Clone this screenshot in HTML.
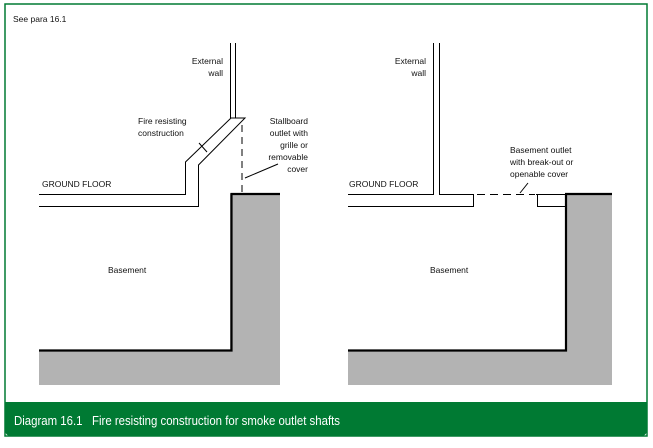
<!DOCTYPE html>
<html><head><style>
body{margin:0;width:653px;height:443px;background:#fff;overflow:hidden;font-family:"Liberation Sans",sans-serif}
</style></head><body>
<svg width="653" height="443" viewBox="0 0 653 443" xmlns="http://www.w3.org/2000/svg">
<rect x="5" y="4" width="642" height="432" rx="0" fill="#fff" stroke="#007a33" stroke-width="1.5"/>
<path d="M4.5 402 H647.5 V428 Q647.5 436.5 639 436.5 H13 Q4.5 436.5 4.5 428 Z" fill="#007a33"/>
<text x="14" y="425" font-size="13" fill="#fff" textLength="326" lengthAdjust="spacingAndGlyphs" xml:space="preserve">Diagram 16.1   Fire resisting construction for smoke outlet shafts</text>
<g font-size="8.5" fill="#111">
<text x="13" y="22">See para 16.1</text>
<text x="223" y="64" text-anchor="end">External</text>
<text x="223" y="76" text-anchor="end">wall</text>
<text x="138" y="124">Fire resisting</text>
<text x="138" y="136">construction</text>
<text x="308" y="124" text-anchor="end">Stallboard</text>
<text x="308" y="136" text-anchor="end">outlet with</text>
<text x="308" y="148" text-anchor="end">grille or</text>
<text x="308" y="160" text-anchor="end">removable</text>
<text x="308" y="172" text-anchor="end">cover</text>
<text x="42" y="187">GROUND FLOOR</text>
<text x="108" y="273">Basement</text>
<text x="426" y="64" text-anchor="end">External</text>
<text x="426" y="76" text-anchor="end">wall</text>
<text x="510" y="153">Basement outlet</text>
<text x="510" y="165">with break-out or</text>
<text x="510" y="177">openable cover</text>
<text x="349" y="187">GROUND FLOOR</text>
<text x="430" y="273">Basement</text>
</g>
<path d="M230 193 H280 V385 H39 V350 H230 Z" fill="#b3b3b3"/>
<path d="M565 193 H612 V385 H348 V350 H565 Z" fill="#b3b3b3"/>
<g fill="none" stroke="#000">
<path d="M230.5 194 H280 M231.5 194 V350.5 H39" stroke-width="2.2"/>
<path d="M565 194 H612 M566 194 V350.5 H348" stroke-width="2.2"/>
<g stroke-width="1">
<path d="M230.5 43 V118 M235.5 43 V118"/>
<path d="M39 194.5 H185.5 V162 L231 118 H245 L198.5 165 V206.5 H39"/>
<path d="M242 125 V193" stroke-dasharray="7,5"/>
<path d="M245 178 L278 164"/>
<path d="M199 143 L207 152"/>
<path d="M433.5 43 V194.5 H348 M439.5 43 V194.5 H473.5 V206.5 H348"/>
<path d="M477 194.5 H535" stroke-dasharray="8,5"/>
<path d="M520 193 L528 183"/>
<path d="M536 194.5 H565 M537.5 194.5 V206.5 H565"/>
</g>
</g>
</svg>
</body></html>
